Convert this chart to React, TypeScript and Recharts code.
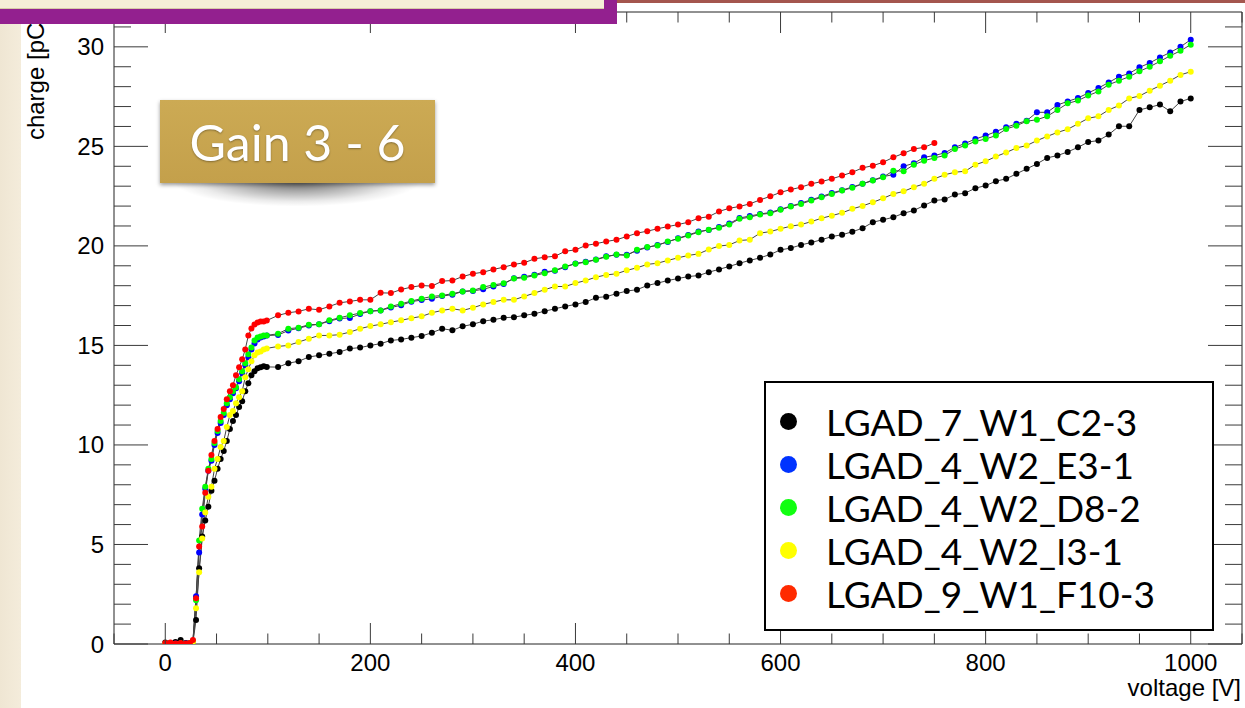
import React from "react";
import { LineChart, Line, XAxis, YAxis, ReferenceArea } from "recharts";

// bias voltage [V] of the scan points
const VOLTAGE = [
  0, 5, 10, 15, 20, 24, 27, 30, 33, 36, 39, 42, 45, 48, 51, 54, 57, 60, 63, 66,
  69, 72, 75, 78, 81, 84, 87, 90, 93, 96, 99,
  110, 120, 130, 140, 150, 160, 170, 180, 190, 200,
  210, 220, 230, 240, 250, 260, 270, 280, 290, 300,
  310, 320, 330, 340, 350, 360, 370, 380, 390, 400,
  410, 420, 430, 440, 450, 460, 470, 480, 490, 500,
  510, 520, 530, 540, 550, 560, 570, 580, 590, 600,
  610, 620, 630, 640, 650, 660, 670, 680, 690, 700,
  710, 720, 730, 740, 750, 760, 770, 780, 790, 800,
  810, 820, 830, 840, 850, 860, 870, 880, 890, 900,
  910, 920, 930, 940, 950, 960, 970, 980, 990, 1000,
];

// collected charge [pC]
const Q_C2_3 = [
  0.08, 0.05, 0.1, 0.2, 0.05, 0.05, 0.1, 1.2, 3.8, 5.4, 6.2, 6.9, 7.7, 8.2, 8.8, 9.3, 9.7, 10.2, 10.8, 11.2,
  11.5, 11.9, 12.2, 12.7, 13.1, 13.5, 13.7, 13.85, 13.9, 13.95, 13.92,
  13.91, 14.11, 14.2, 14.42, 14.5, 14.58, 14.67, 14.84, 14.89, 15.0,
  15.09, 15.25, 15.3, 15.39, 15.47, 15.64, 15.84, 15.76, 15.96, 16.06,
  16.22, 16.29, 16.39, 16.42, 16.51, 16.59, 16.72, 16.84, 16.96, 17.06,
  17.18, 17.4, 17.45, 17.6, 17.73, 17.8, 18.01, 18.13, 18.26, 18.36,
  18.46, 18.51, 18.68, 18.82, 18.97, 19.13, 19.27, 19.4, 19.57, 19.8,
  19.89, 20.05, 20.17, 20.31, 20.47, 20.56, 20.71, 20.89, 21.19, 21.31,
  21.44, 21.64, 21.78, 22.03, 22.28, 22.33, 22.58, 22.65, 22.9, 23.03,
  23.25, 23.37, 23.62, 23.87, 24.12, 24.42, 24.54, 24.72, 24.95, 25.22,
  25.29, 25.59, 26.01, 26.01, 26.83, 26.96, 27.1, 26.76, 27.25, 27.41,
];

const Q_E3_1 = [
  0.0, 0.0, 0.02, 0.0, 0.02, 0.0, 0.1, 2.4, 4.6, 6.5, 7.8, 8.7, 9.2, 10.0, 10.6, 11.1, 11.5, 12.0, 12.3, 12.6,
  12.85, 13.2, 13.6, 14.0, 14.4, 14.8, 15.1, 15.3, 15.4, 15.45, 15.5,
  15.52, 15.75, 15.86, 16.0, 16.06, 16.22, 16.35, 16.38, 16.58, 16.72,
  16.76, 16.9, 17.02, 17.2, 17.28, 17.34, 17.48, 17.55, 17.71, 17.74,
  17.82, 17.96, 18.08, 18.38, 18.45, 18.55, 18.7, 18.75, 18.93, 19.12,
  19.2, 19.32, 19.48, 19.55, 19.55, 19.76, 19.92, 20.05, 20.2, 20.38,
  20.55, 20.72, 20.8, 20.95, 21.12, 21.4, 21.5, 21.6, 21.68, 21.84,
  22.0, 22.15, 22.32, 22.48, 22.66, 22.8, 22.96, 23.12, 23.3, 23.48,
  23.58, 24.0, 24.15, 24.45, 24.54, 24.67, 24.95, 25.15, 25.37, 25.54,
  25.74, 25.96, 26.13, 26.29, 26.71, 26.71, 27.08, 27.26, 27.43, 27.68,
  27.93, 28.21, 28.5, 28.66, 28.97, 29.19, 29.47, 29.72, 30.0, 30.36,
];

const Q_D8_2 = [
  0.02, 0.02, 0.0, 0.03, 0.0, 0.03, 0.15, 2.2, 5.2, 6.8, 7.9, 8.8, 9.3, 10.1, 10.7, 11.2, 11.6, 12.1, 12.4, 12.7,
  12.9, 13.3, 13.7, 14.1, 14.55, 14.9, 15.25, 15.4, 15.45, 15.5, 15.5,
  15.59, 15.84, 15.89, 16.04, 16.06, 16.26, 16.39, 16.51, 16.63, 16.72,
  16.76, 16.96, 17.09, 17.23, 17.35, 17.46, 17.51, 17.6, 17.71, 17.76,
  17.93, 18.04, 18.12, 18.36, 18.4, 18.51, 18.63, 18.77, 18.97, 19.1,
  19.18, 19.3, 19.45, 19.57, 19.52, 19.8, 19.94, 20.02, 20.22, 20.36,
  20.52, 20.69, 20.81, 20.91, 21.07, 21.36, 21.44, 21.58, 21.64, 21.81,
  21.98, 22.11, 22.28, 22.44, 22.61, 22.78, 22.92, 23.12, 23.28, 23.45,
  23.78, 23.75, 24.08, 24.28, 24.42, 24.54, 24.87, 25.04, 25.25, 25.37,
  25.54, 25.87, 26.04, 26.26, 26.34, 26.51, 26.83, 27.16, 27.3, 27.55,
  27.76, 28.1, 28.3, 28.5, 28.77, 29.0, 29.27, 29.55, 29.8, 30.11,
];

const Q_I3_1 = [
  0.0, 0.03, 0.0, 0.02, 0.0, 0.03, 0.1, 1.8, 3.6, 5.3, 6.6, 7.4, 7.9, 8.8, 9.3, 9.9, 10.2, 10.9, 11.5, 11.7,
  12.1, 12.4, 12.7, 13.4, 13.8, 14.2, 14.5, 14.65, 14.7, 14.8, 14.85,
  14.95, 15.0, 15.17, 15.34, 15.5, 15.5, 15.54, 15.67, 15.84, 15.97,
  16.06, 16.17, 16.26, 16.37, 16.46, 16.64, 16.76, 16.84, 16.76, 16.89,
  17.06, 17.18, 17.29, 17.29, 17.46, 17.63, 17.8, 17.96, 17.96, 18.13,
  18.26, 18.43, 18.54, 18.6, 18.77, 18.9, 19.07, 19.13, 19.27, 19.4,
  19.52, 19.6, 19.82, 19.99, 20.05, 20.27, 20.31, 20.64, 20.72, 20.86,
  20.99, 21.07, 21.22, 21.39, 21.52, 21.66, 21.86, 22.01, 22.19, 22.39,
  22.61, 22.74, 22.95, 23.12, 23.37, 23.57, 23.7, 23.75, 24.08, 24.25,
  24.49, 24.69, 24.92, 25.04, 25.29, 25.5, 25.7, 25.86, 26.13, 26.41,
  26.51, 26.83, 27.05, 27.41, 27.53, 27.8, 28.05, 28.3, 28.59, 28.75,
];

// this one stops at 750 V
const Q_F10_3 = [
  0.05, 0.08, 0.02, 0.05, 0.02, 0.05, 0.2, 2.3, 4.9, 5.9, 7.6, 8.7, 9.5, 10.2, 10.8, 11.4, 11.8, 12.3, 12.7, 13.0,
  13.5, 13.9, 14.3, 14.8, 15.5, 15.85, 16.05, 16.15, 16.2, 16.2, 16.25,
  16.51, 16.64, 16.71, 16.84, 16.79, 16.96, 17.14, 17.21, 17.29, 17.29,
  17.64, 17.63, 17.81, 17.93, 18.01, 17.98, 18.23, 18.26, 18.46, 18.6,
  18.68, 18.82, 18.93, 19.07, 19.15, 19.35, 19.43, 19.48, 19.73, 19.8,
  20.02, 20.11, 20.22, 20.31, 20.47, 20.64, 20.74, 20.86, 20.97, 21.07,
  21.19, 21.39, 21.47, 21.73, 21.89, 21.98, 22.11, 22.31, 22.49, 22.69,
  22.83, 22.95, 23.12, 23.23, 23.37, 23.53, 23.7, 23.92, 24.03, 24.2,
  24.45, 24.65, 24.87, 24.95, 25.17,
];

const SERIES = [
  { name: "LGAD_7_W1_C2-3", color: "#000000", legend: "#000000", q: Q_C2_3 },
  { name: "LGAD_4_W2_E3-1", color: "#0000ff", legend: "#0033ff", q: Q_E3_1 },
  { name: "LGAD_4_W2_D8-2", color: "#00ff00", legend: "#11ff11", q: Q_D8_2 },
  { name: "LGAD_4_W2_I3-1", color: "#ffff00", legend: "#ffff00", q: Q_I3_1 },
  { name: "LGAD_9_W1_F10-3", color: "#ff0000", legend: "#ff2a00", q: Q_F10_3 },
];

const X_TICKS = [
  -50, 0, 50, 100, 150, 200, 250, 300, 350, 400, 450, 500, 550,
  600, 650, 700, 750, 800, 850, 900, 950, 1000, 1050,
];
const X_LABELS = [0, 200, 400, 600, 800, 1000];
const Y_TICKS = [
  0, 1, 2, 3, 4, 5, 6, 7, 8, 9, 10, 11, 12, 13, 14, 15,
  16, 17, 18, 19, 20, 21, 22, 23, 24, 25, 26, 27, 28, 29, 30, 31,
];
const Y_LABELS = [0, 5, 10, 15, 20, 25, 30];
const Y_MAX = 31.75;

const W = 1245;
const H = 708;
const PL = 114;
const PR = 1242;
const PT = 12;
const PB = 644;
const AXIS_FONT = "'Liberation Sans', Arial, sans-serif";
const SLIDE_FONT = "Lato, 'Open Sans', sans-serif";
const TICK_COLOR = "#3a3a3a";

const XTick = (props: any) => {
  const { x, payload } = props;
  const v = payload.value;
  const major = X_LABELS.includes(v);
  const len = major ? 21 : 10.5;
  return (
    <g>
      <line x1={x} x2={x} y1={PB} y2={PB - len} stroke={TICK_COLOR} strokeWidth={1} />
      <line x1={x} x2={x} y1={PT} y2={PT + len} stroke={TICK_COLOR} strokeWidth={1} />
      {major && (
        <text x={x} y={PB + 27} textAnchor="middle" fontFamily={AXIS_FONT} fontSize={24} fill="#000">
          {v}
        </text>
      )}
    </g>
  );
};

const YTick = (props: any) => {
  const { y, payload } = props;
  const v = payload.value;
  const major = Y_LABELS.includes(v);
  const len = major ? 34 : 17;
  return (
    <g>
      <line x1={PL} x2={PL + len} y1={y} y2={y} stroke={TICK_COLOR} strokeWidth={1} />
      <line x1={PR - len} x2={PR} y1={y} y2={y} stroke={TICK_COLOR} strokeWidth={1} />
      {major && (
        <text x={104} y={y + 8.5} textAnchor="end" fontFamily={AXIS_FONT} fontSize={24} fill="#000">
          {v}
        </text>
      )}
    </g>
  );
};

const App = () => {
  return (
    <div
      style={{
        position: "absolute",
        left: 0,
        top: 0,
        width: W,
        height: H,
        overflow: "hidden",
        background: "#ffffff",
      }}
    >
      {/* slide background strip on the left */}
      <div
        style={{
          position: "absolute",
          left: 0,
          top: 0,
          width: 21,
          height: H,
          background: "linear-gradient(90deg, #efe6d3, #f4ecdb)",
        }}
      />
      <div style={{ position: "absolute", left: 0, top: 0 }}>
        <LineChart
          width={W}
          height={H}
          margin={{ top: PT, right: W - PR, bottom: H - PB - 30, left: PL - 60 }}
        >
          <XAxis
            dataKey="v"
            type="number"
            domain={[-50, 1050]}
            ticks={X_TICKS}
            interval={0}
            allowDataOverflow
            axisLine={false}
            tickLine={false}
            height={30}
            tick={<XTick />}
          />
          <YAxis
            type="number"
            domain={[0, Y_MAX]}
            ticks={Y_TICKS}
            interval={0}
            allowDataOverflow
            axisLine={false}
            tickLine={false}
            width={60}
            tick={<YTick />}
            label={{
              content: () => (
                <text
                  x={44}
                  y={16}
                  transform="rotate(-90 44 16)"
                  textAnchor="end"
                  fontFamily={AXIS_FONT}
                  fontSize={24}
                  fill="#000"
                >
                  charge [pC]
                </text>
              ),
            }}
          />
          <ReferenceArea
            x1={-50}
            x2={1050}
            y1={0}
            y2={Y_MAX}
            fill="none"
            fillOpacity={0}
            stroke="#222"
            strokeWidth={1}
          />
          {SERIES.map((s) => (
            <Line
              key={s.name}
              name={s.name}
              data={s.q.map((q, i) => ({ v: VOLTAGE[i], q }))}
              dataKey="q"
              type="linear"
              stroke="#444"
              strokeWidth={1}
              dot={{ r: 3, fill: s.color, stroke: "none", strokeWidth: 0 }}
              activeDot={false}
              isAnimationActive={false}
            />
          ))}
        </LineChart>
      </div>
      <div
        style={{
          position: "absolute",
          right: 4,
          top: 674,
          fontFamily: AXIS_FONT,
          fontSize: 24,
          lineHeight: "28px",
          color: "#000",
        }}
      >
        voltage [V]
      </div>

      {/* slide decorations at the top */}
      <div style={{ position: "absolute", left: 617, top: 0, width: W - 617, height: 3, background: "#a4564e" }} />
      <div
        style={{
          position: "absolute",
          left: 0,
          top: 0,
          width: 604,
          height: 9,
          background: "#f6edd7",
          borderBottom: "1px solid #d8c9a8",
          boxSizing: "border-box",
        }}
      />
      <div style={{ position: "absolute", left: 0, top: 9, width: 617, height: 15, background: "#93208f" }} />
      <div style={{ position: "absolute", left: 604, top: 0, width: 13, height: 9, background: "#93208f" }} />

      {/* Gain label */}
      <div
        style={{
          position: "absolute",
          left: 168,
          top: 181,
          width: 258,
          height: 30,
          background:
            "radial-gradient(ellipse 48% 85% at 50% 0%, rgba(0,0,0,0.6), rgba(0,0,0,0.3) 45%, rgba(0,0,0,0.08) 80%, rgba(0,0,0,0) 100%)",
        }}
      />
      <div
        style={{
          position: "absolute",
          left: 160,
          top: 100,
          width: 275,
          height: 83,
          background: "linear-gradient(180deg, #ccaa54, #c4a04b)",
          boxShadow: "0 2px 4px rgba(0,0,0,0.4)",
          display: "flex",
          alignItems: "center",
          justifyContent: "center",
          fontFamily: SLIDE_FONT,
          fontSize: 50,
          color: "#ffffff",
          textShadow: "0 1px 2px rgba(0,0,0,0.35)",
          whiteSpace: "nowrap",
        }}
      >
        Gain 3 - 6
      </div>

      {/* legend */}
      <div
        style={{
          position: "absolute",
          left: 764,
          top: 381,
          width: 450,
          height: 250,
          boxSizing: "border-box",
          border: "2.5px solid #000",
          background: "#ffffff",
          paddingTop: 17,
        }}
      >
        {SERIES.map((s) => (
          <div
            key={s.name}
            style={{
              position: "relative",
              height: 43,
              lineHeight: "43px",
              fontFamily: SLIDE_FONT,
              fontSize: 37,
              color: "#000",
              whiteSpace: "nowrap",
            }}
          >
            <span
              style={{
                position: "absolute",
                left: 14,
                top: 13,
                width: 17,
                height: 17,
                borderRadius: "50%",
                background: s.legend,
              }}
            />
            <span style={{ position: "absolute", left: 60 }}>{s.name}</span>
          </div>
        ))}
      </div>
    </div>
  );
};

export default App;
